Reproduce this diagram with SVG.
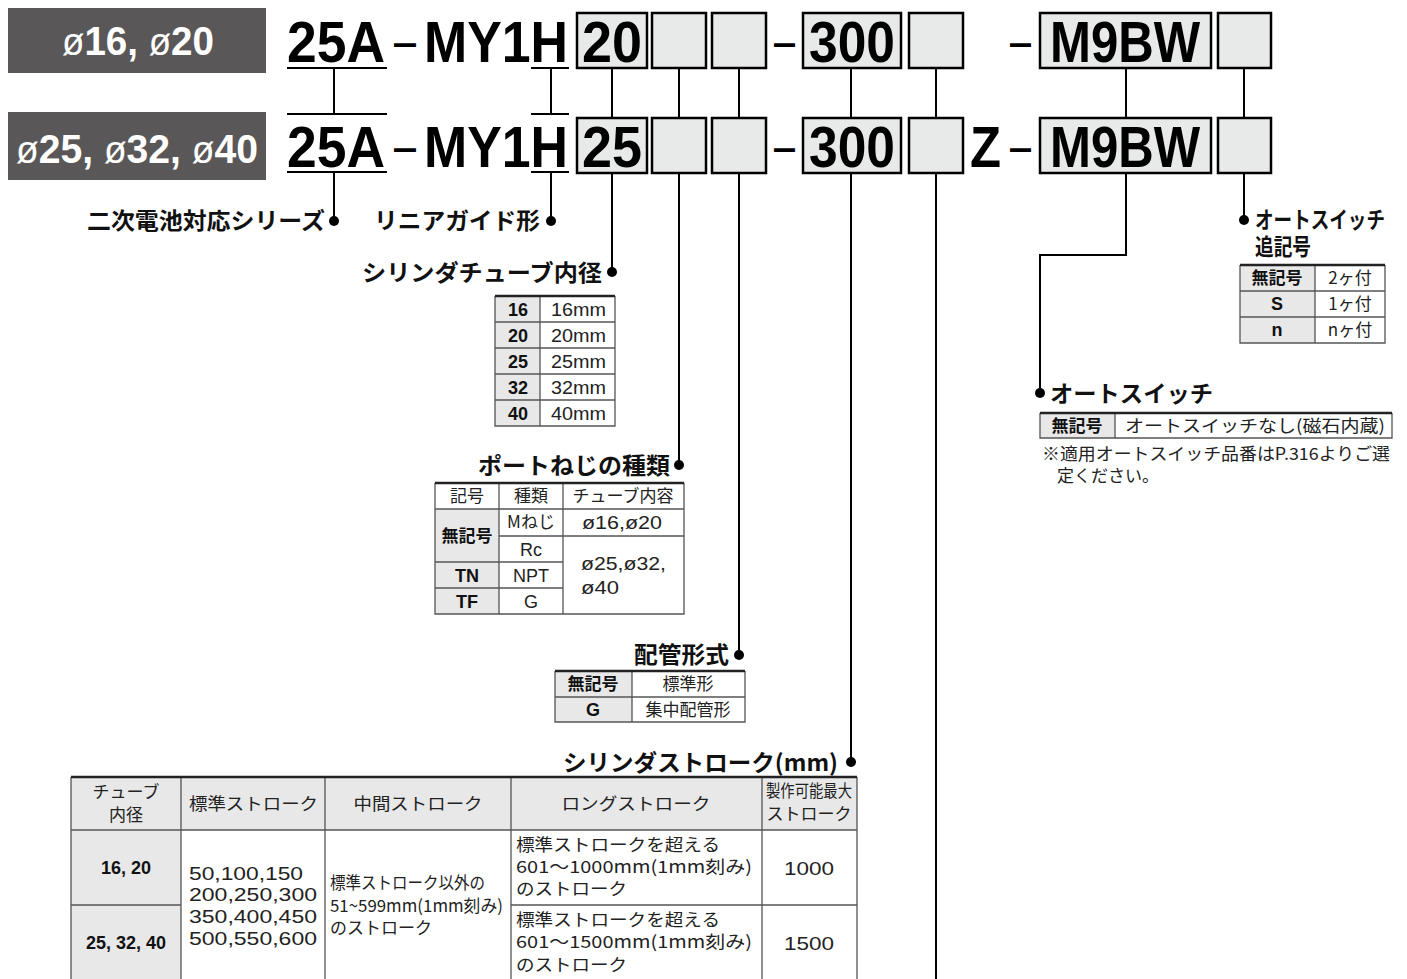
<svg xmlns="http://www.w3.org/2000/svg" width="1407" height="979" viewBox="0 0 1407 979">
<style>
.bg{fill:#ffffff}
.dark{fill:#595757}
.dk{font-family:"Liberation Sans",sans-serif;font-weight:bold;fill:#ffffff;font-size:40px}
.phi{font-weight:normal;font-size:38px}
.code{font-family:"Liberation Sans",sans-serif;font-weight:bold;fill:#000;font-size:58px}
.dash{font-family:"Liberation Sans",sans-serif;font-weight:normal;fill:#000;font-size:58px}
.box{fill:#e8e9e9;stroke:#000;stroke-width:2.5}
.ln{stroke:#000;stroke-width:2;fill:none}
.dot{fill:#000}
.lab{font-family:"Noto Sans CJK JP",sans-serif;font-weight:bold;font-size:23px;fill:#111}
.tb{font-family:"Liberation Sans","Noto Sans CJK JP",sans-serif;font-size:18px;fill:#222}
.tbb{font-family:"Liberation Sans","Noto Sans CJK JP",sans-serif;font-size:18px;font-weight:bold;fill:#111}
.jp{font-family:"Noto Sans CJK JP",sans-serif;font-size:17px;fill:#222}
.jpb{font-family:"Noto Sans CJK JP",sans-serif;font-size:17px;font-weight:bold;fill:#111}
.g{fill:#e8e8e8}
.w{fill:#ffffff}
.grid{stroke:#555;stroke-width:1.3;fill:none}
.top{stroke:#222;stroke-width:2.5}
.c{text-anchor:middle}
.e{text-anchor:end}
</style>
<rect class="bg" x="0" y="0" width="1407" height="979"/>

<g id="header-row1">
  <rect class="dark" x="8" y="8" width="258" height="65"/>
  <text class="dk" x="62" y="55" textLength="152" lengthAdjust="spacingAndGlyphs"><tspan class="phi">ø</tspan>16, <tspan class="phi">ø</tspan>20</text>
  <text class="code" x="287" y="62" textLength="98" lengthAdjust="spacingAndGlyphs">25A</text>
  <line class="ln" x1="287" y1="68" x2="387" y2="68" stroke-width="2.5"/>
  <text class="dash" x="394" y="60" textLength="22" lengthAdjust="spacingAndGlyphs">–</text>
  <text class="code" x="424" y="62" textLength="144" lengthAdjust="spacingAndGlyphs">MY1H</text>
  <line class="ln" x1="531" y1="68" x2="569" y2="68" stroke-width="2.5"/>
  <rect class="box" x="577" y="13" width="70" height="55"/>
  <text class="code" x="612" y="62" text-anchor="middle" textLength="60" lengthAdjust="spacingAndGlyphs">20</text>
  <rect class="box" x="652" y="13" width="54" height="55"/>
  <rect class="box" x="712" y="13" width="54" height="55"/>
  <text class="dash" x="774" y="60" textLength="21" lengthAdjust="spacingAndGlyphs">–</text>
  <rect class="box" x="803" y="13" width="98" height="55"/>
  <text class="code" x="852" y="62" text-anchor="middle" textLength="86" lengthAdjust="spacingAndGlyphs">300</text>
  <rect class="box" x="909" y="13" width="54" height="55"/>
  <text class="dash" x="1010" y="60" textLength="21" lengthAdjust="spacingAndGlyphs">–</text>
  <rect class="box" x="1040" y="13" width="171" height="55"/>
  <text class="code" x="1125" y="62" text-anchor="middle" textLength="150" lengthAdjust="spacingAndGlyphs">M9BW</text>
  <rect class="box" x="1218" y="13" width="53" height="55"/>
</g>

<g id="header-row2">
  <rect class="dark" x="8" y="112" width="258" height="68"/>
  <text class="dk" x="16" y="163" textLength="242" lengthAdjust="spacingAndGlyphs"><tspan class="phi">ø</tspan>25, <tspan class="phi">ø</tspan>32, <tspan class="phi">ø</tspan>40</text>
  <line class="ln" x1="287" y1="114" x2="387" y2="114" stroke-width="2.5"/>
  <text class="code" x="287" y="167" textLength="98" lengthAdjust="spacingAndGlyphs">25A</text>
  <line class="ln" x1="287" y1="172" x2="387" y2="172" stroke-width="2.5"/>
  <text class="dash" x="394" y="165" textLength="22" lengthAdjust="spacingAndGlyphs">–</text>
  <text class="code" x="424" y="167" textLength="144" lengthAdjust="spacingAndGlyphs">MY1H</text>
  <line class="ln" x1="531" y1="114" x2="569" y2="114" stroke-width="2.5"/>
  <line class="ln" x1="531" y1="172" x2="569" y2="172" stroke-width="2.5"/>
  <rect class="box" x="577" y="118" width="70" height="55"/>
  <text class="code" x="612" y="167" text-anchor="middle" textLength="60" lengthAdjust="spacingAndGlyphs">25</text>
  <rect class="box" x="652" y="118" width="54" height="55"/>
  <rect class="box" x="712" y="118" width="54" height="55"/>
  <text class="dash" x="774" y="165" textLength="21" lengthAdjust="spacingAndGlyphs">–</text>
  <rect class="box" x="803" y="118" width="98" height="55"/>
  <text class="code" x="852" y="167" text-anchor="middle" textLength="86" lengthAdjust="spacingAndGlyphs">300</text>
  <rect class="box" x="909" y="118" width="54" height="55"/>
  <text class="code" x="970" y="167" textLength="31" lengthAdjust="spacingAndGlyphs">Z</text>
  <text class="dash" x="1010" y="165" textLength="21" lengthAdjust="spacingAndGlyphs">–</text>
  <rect class="box" x="1040" y="118" width="171" height="55"/>
  <text class="code" x="1125" y="167" text-anchor="middle" textLength="150" lengthAdjust="spacingAndGlyphs">M9BW</text>
  <rect class="box" x="1218" y="118" width="53" height="55"/>
</g>

<g id="connectors">
  <path class="ln" d="M334 68V114M334 172V221"/>
  <path class="ln" d="M551 68V114M551 172V221"/>
  <path class="ln" d="M612 68V118M612 173V272"/>
  <path class="ln" d="M679 68V118M679 173V465"/>
  <path class="ln" d="M739 68V118M739 173V655"/>
  <path class="ln" d="M851 68V118M851 173V762"/>
  <path class="ln" d="M936 68V118M936 173V979"/>
  <path class="ln" d="M1126 68V118M1126 173V255H1040V393"/>
  <path class="ln" d="M1244 68V118M1244 173V220"/>
  <circle class="dot" cx="334" cy="221" r="5"/>
  <circle class="dot" cx="551" cy="221" r="5"/>
  <circle class="dot" cx="612" cy="272" r="5"/>
  <circle class="dot" cx="679" cy="465" r="5"/>
  <circle class="dot" cx="739" cy="655" r="5"/>
  <circle class="dot" cx="851" cy="762" r="5"/>
  <circle class="dot" cx="1040" cy="393" r="5"/>
  <circle class="dot" cx="1244" cy="220" r="5"/>
</g>

<g id="series">
  <text class="lab" x="87" y="229" textLength="238" lengthAdjust="spacingAndGlyphs">二次電池対応シリーズ</text>
</g>
<g id="linear-guide">
  <text class="lab" x="374" y="229" textLength="166" lengthAdjust="spacingAndGlyphs">リニアガイド形</text>
</g>

<g id="bore">
  <text class="lab" x="362" y="281" textLength="240" lengthAdjust="spacingAndGlyphs">シリンダチューブ内径</text>
  <rect class="g" x="495" y="296" width="45" height="130"/>
  <rect class="w" x="540" y="296" width="75" height="130"/>
  <path class="grid" d="M495 296V426H615V296M540 296V426M495 322H615M495 348H615M495 374H615M495 400H615"/>
  <line class="top" x1="495" y1="296" x2="615" y2="296"/>
  <text class="tbb c" x="518" y="316">16</text><text class="tb" x="551" y="316" textLength="55" lengthAdjust="spacingAndGlyphs">16mm</text>
  <text class="tbb c" x="518" y="342">20</text><text class="tb" x="551" y="342" textLength="55" lengthAdjust="spacingAndGlyphs">20mm</text>
  <text class="tbb c" x="518" y="368">25</text><text class="tb" x="551" y="368" textLength="55" lengthAdjust="spacingAndGlyphs">25mm</text>
  <text class="tbb c" x="518" y="394">32</text><text class="tb" x="551" y="394" textLength="55" lengthAdjust="spacingAndGlyphs">32mm</text>
  <text class="tbb c" x="518" y="420">40</text><text class="tb" x="551" y="420" textLength="55" lengthAdjust="spacingAndGlyphs">40mm</text>
</g>

<g id="port-thread">
  <text class="lab" x="478" y="474" textLength="192" lengthAdjust="spacingAndGlyphs">ポートねじの種類</text>
  <rect class="w" x="435" y="483" width="249" height="26"/>
  <rect class="g" x="435" y="509" width="64" height="105"/>
  <rect class="w" x="499" y="509" width="185" height="105"/>
  <path class="grid" d="M435 483V614H684V483M499 483V614M563 483V614M435 509H684M499 536H684M499 562H563M435 562H499M435 588H563"/>
  <line class="top" x1="435" y1="483" x2="684" y2="483"/>
  <text class="jp c" x="467" y="502">記号</text>
  <text class="jp c" x="531" y="502">種類</text>
  <text class="jp c" x="623" y="502" font-size="18">チューブ内容</text>
  <text class="jpb c" x="467" y="542">無記号</text>
  <text class="jp c" x="531" y="528">Mねじ</text>
  <text class="tb" x="582" y="529" textLength="80" lengthAdjust="spacingAndGlyphs">ø16,ø20</text>
  <text class="tb c" x="531" y="556">Rc</text>
  <text class="tbb c" x="467" y="582">TN</text>
  <text class="tb c" x="531" y="582">NPT</text>
  <text class="tbb c" x="467" y="608">TF</text>
  <text class="tb c" x="531" y="608">G</text>
  <text class="tb" x="581" y="570" textLength="85" lengthAdjust="spacingAndGlyphs">ø25,ø32,</text>
  <text class="tb" x="581" y="594" textLength="38" lengthAdjust="spacingAndGlyphs">ø40</text>
</g>

<g id="piping">
  <text class="lab" x="634" y="663" textLength="95" lengthAdjust="spacingAndGlyphs">配管形式</text>
  <rect class="g" x="555" y="671" width="77" height="51"/>
  <rect class="w" x="632" y="671" width="113" height="51"/>
  <path class="grid" d="M555 671V722H745V671M632 671V722M555 697H745"/>
  <line class="top" x1="555" y1="671" x2="745" y2="671"/>
  <text class="jpb c" x="593" y="690">無記号</text>
  <text class="jp c" x="688" y="690">標準形</text>
  <text class="tbb c" x="593" y="716">G</text>
  <text class="jp c" x="688" y="716">集中配管形</text>
</g>

<g id="stroke">
  <text class="lab" x="563" y="771" textLength="275" lengthAdjust="spacingAndGlyphs">シリンダストローク(mm)</text>
  <rect class="g" x="71" y="777" width="786" height="53"/>
  <rect class="g" x="71" y="830" width="110" height="149"/>
  <rect class="w" x="181" y="830" width="676" height="149"/>
  <path class="grid" d="M71 777V979M857 777V979M181 777V979M325 777V979M511 777V979M762 777V979M71 830H857M71 905H181M511 905H857"/>
  <line class="top" x1="71" y1="777" x2="857" y2="777"/>
  <text class="jp c" x="126" y="798" font-size="16">チューブ</text>
  <text class="jp c" x="126" y="821" font-size="16">内径</text>
  <text class="jp" x="189" y="810" textLength="129" lengthAdjust="spacingAndGlyphs">標準ストローク</text>
  <text class="jp c" x="418" y="810" textLength="129" lengthAdjust="spacingAndGlyphs">中間ストローク</text>
  <text class="jp c" x="636" y="810" textLength="149" lengthAdjust="spacingAndGlyphs">ロングストローク</text>
  <text class="jp c" x="809" y="797" font-size="14" textLength="86" lengthAdjust="spacingAndGlyphs">製作可能最大</text>
  <text class="jp c" x="809" y="820" font-size="15">ストローク</text>
  <text class="tbb c" x="126" y="874">16, 20</text>
  <text class="tbb c" x="126" y="949">25, 32, 40</text>
  <text class="tb" x="189" y="880" textLength="114" lengthAdjust="spacingAndGlyphs">50,100,150</text>
  <text class="tb" x="189" y="901" textLength="128" lengthAdjust="spacingAndGlyphs">200,250,300</text>
  <text class="tb" x="189" y="923" textLength="128" lengthAdjust="spacingAndGlyphs">350,400,450</text>
  <text class="tb" x="189" y="945" textLength="128" lengthAdjust="spacingAndGlyphs">500,550,600</text>
  <text class="jp" x="330" y="889" font-size="14.5" textLength="155" lengthAdjust="spacingAndGlyphs">標準ストローク以外の</text>
  <text class="jp" x="330" y="912" font-size="14.5" textLength="173" lengthAdjust="spacingAndGlyphs">51~599mm(1mm刻み)</text>
  <text class="jp" x="330" y="934" font-size="14.5">のストローク</text>
  <text class="jp" x="516" y="851" font-size="18.5" textLength="204" lengthAdjust="spacingAndGlyphs">標準ストロークを超える</text>
  <text class="jp" x="516" y="873" font-size="18.5" textLength="236" lengthAdjust="spacingAndGlyphs">601～1000mm(1mm刻み)</text>
  <text class="jp" x="516" y="895" font-size="18.5" textLength="111" lengthAdjust="spacingAndGlyphs">のストローク</text>
  <text class="jp" x="516" y="926" font-size="18.5" textLength="204" lengthAdjust="spacingAndGlyphs">標準ストロークを超える</text>
  <text class="jp" x="516" y="948" font-size="18.5" textLength="236" lengthAdjust="spacingAndGlyphs">601～1500mm(1mm刻み)</text>
  <text class="jp" x="516" y="971" font-size="18.5" textLength="111" lengthAdjust="spacingAndGlyphs">のストローク</text>
  <text class="tb c" x="809" y="875" textLength="50" lengthAdjust="spacingAndGlyphs">1000</text>
  <text class="tb c" x="809" y="950" textLength="50" lengthAdjust="spacingAndGlyphs">1500</text>
</g>

<g id="switch-qty">
  <text class="lab" x="1255" y="228" font-size="19" textLength="130" lengthAdjust="spacingAndGlyphs">オートスイッチ</text>
  <text class="lab" x="1255" y="255" font-size="19" textLength="56" lengthAdjust="spacingAndGlyphs">追記号</text>
  <rect class="g" x="1240" y="265" width="75" height="78"/>
  <rect class="w" x="1315" y="265" width="70" height="78"/>
  <path class="grid" d="M1240 265V343H1385V265M1315 265V343M1240 291H1385M1240 317H1385"/>
  <line class="top" x1="1240" y1="265" x2="1385" y2="265"/>
  <text class="jpb c" x="1277" y="284">無記号</text>
  <text class="jp c" x="1350" y="284">2ヶ付</text>
  <text class="tbb c" x="1277" y="310">S</text>
  <text class="jp c" x="1350" y="310">1ヶ付</text>
  <text class="tbb c" x="1277" y="336">n</text>
  <text class="jp c" x="1350" y="336">nヶ付</text>
</g>

<g id="auto-switch">
  <text class="lab" x="1050" y="402" textLength="163" lengthAdjust="spacingAndGlyphs">オートスイッチ</text>
  <rect class="g" x="1040" y="413" width="75" height="25"/>
  <rect class="w" x="1115" y="413" width="277" height="25"/>
  <path class="grid" d="M1040 413V438H1392V413M1115 413V438"/>
  <line class="top" x1="1040" y1="413" x2="1392" y2="413"/>
  <text class="jpb c" x="1077" y="432">無記号</text>
  <text class="jp" x="1125" y="432" textLength="260" lengthAdjust="spacingAndGlyphs">オートスイッチなし(磁石内蔵)</text>
  <text class="jp" x="1042" y="460" font-size="15.5" textLength="348" lengthAdjust="spacingAndGlyphs">※適用オートスイッチ品番はP.316よりご選</text>
  <text class="jp" x="1057" y="482" font-size="15.5">定ください。</text>
</g>
</svg>
